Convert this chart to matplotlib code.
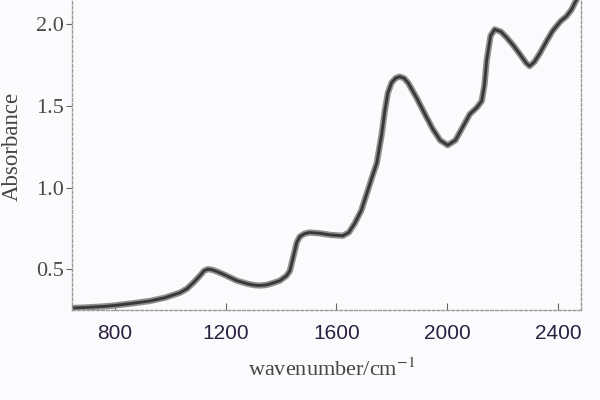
import matplotlib
matplotlib.use('Agg')
import matplotlib.pyplot as plt

plt.rcParams['mathtext.fontset'] = 'stix'

# spectrum
WAVENUMBER = [645, 700, 760, 800, 860, 926, 980, 1035, 1060, 1085, 1107, 1122, 1135,
              1150, 1170, 1197, 1240, 1280, 1305, 1323, 1345, 1365, 1396, 1420, 1432,
              1445, 1457, 1468, 1485, 1504, 1540, 1580, 1623, 1645, 1666, 1690, 1713,
              1730, 1746, 1764, 1775, 1786, 1800, 1815, 1829, 1845, 1860, 1890, 1920,
              1948, 1975, 2002, 2030, 2056, 2082, 2107, 2125, 2135, 2143, 2157, 2172,
              2195, 2215, 2240, 2262, 2285, 2298, 2315, 2334, 2360, 2381, 2410, 2431,
              2449, 2467, 2483]
ABSORBANCE = [0.262, 0.266, 0.272, 0.278, 0.29, 0.305, 0.325, 0.356, 0.38, 0.42, 0.46,
              0.49, 0.50, 0.497, 0.485, 0.465, 0.43, 0.41, 0.402, 0.40, 0.403, 0.412,
              0.43, 0.46, 0.49, 0.58, 0.665, 0.70, 0.718, 0.725, 0.72, 0.71, 0.705,
              0.725, 0.78, 0.86, 0.98, 1.07, 1.15, 1.33, 1.47, 1.58, 1.645, 1.672,
              1.68, 1.67, 1.64, 1.55, 1.45, 1.36, 1.29, 1.26, 1.29, 1.37, 1.45, 1.49,
              1.53, 1.63, 1.78, 1.93, 1.97, 1.955, 1.92, 1.87, 1.82, 1.765, 1.745,
              1.77, 1.82, 1.90, 1.96, 2.02, 2.05, 2.09, 2.15, 2.20]

XTICKS = [800, 1200, 1600, 2000, 2400]
YTICKS = [0.5, 1.0, 1.5, 2.0]

fig = plt.figure(figsize=(6, 4), dpi=100, facecolor='#fbfbfd')
ax = fig.add_axes([0.12, 0.225, 0.848, 0.775])
ax.set_facecolor('#fbfbfd')

ax.plot(WAVENUMBER, ABSORBANCE, color='#8f8f8f', lw=4.5, solid_capstyle='round',
        solid_joinstyle='round')
ax.plot(WAVENUMBER, ABSORBANCE, color='#383838', lw=2.0, solid_capstyle='round',
        solid_joinstyle='round')

ax.set_xlim(645, 2483)
ax.set_ylim(0.25, 2.15)

for side in ['left', 'right', 'bottom']:
    ax.spines[side].set_color('#9a9a9a')
    ax.spines[side].set_linewidth(1.0)
    ax.spines[side].set_linestyle((0, (2, 1.5)))
ax.spines['top'].set_visible(False)

ax.set_xticks(XTICKS)
ax.set_xticklabels([str(t) for t in XTICKS], family='Liberation Sans', fontsize=15,
                   color='#2a2040')
ax.tick_params(axis='x', direction='in', length=5, color='#666666', pad=10)

ax.set_yticks(YTICKS)
ax.set_yticklabels(['%.1f' % t for t in YTICKS], family='Liberation Serif', fontsize=16,
                   color='#4a4a4a')
ax.tick_params(axis='y', direction='out', length=4, color='#666666', pad=2)

ax.set_xlabel('wavenumber/cm$^{-1}$', family='Liberation Serif', fontsize=16,
              color='#454545')
ax.xaxis.set_label_coords(0.51, -0.155)
ax.set_ylabel('Absorbance', family='Liberation Serif', fontsize=16.5, color='#454545')
ax.yaxis.set_label_coords(-0.097, 0.527)

fig.savefig('out.png', dpi=100, facecolor=fig.get_facecolor())
